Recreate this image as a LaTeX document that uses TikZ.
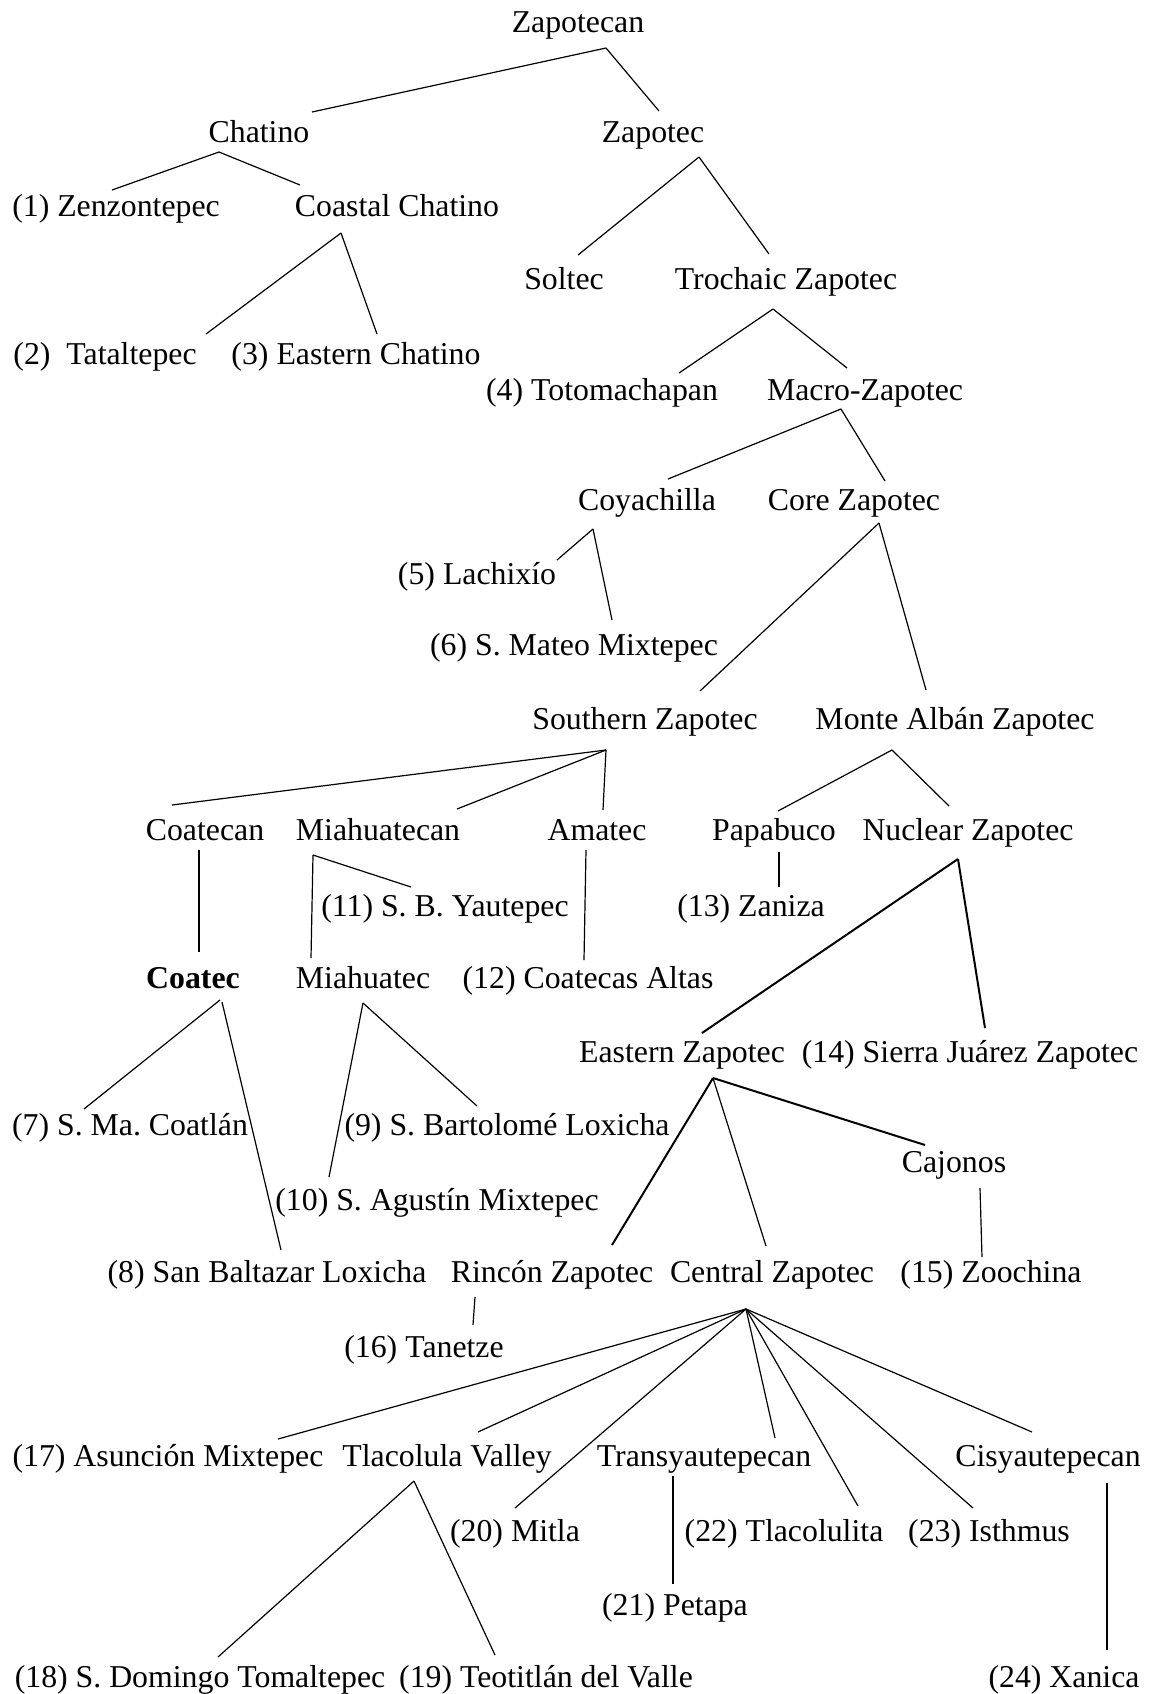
\documentclass[tikz,border=0pt]{standalone}
\usepackage{fontspec}
\setmainfont{Liberation Serif}
\frenchspacing
\begin{document}
\begin{tikzpicture}[x=0.5pt,y=-0.5pt,
  lbl/.style={anchor=base, inner sep=0pt, font=\fontsize{15.9pt}{19pt}\selectfont},
  branch/.style={line width=0.6pt},
  heavy/.style={line width=1pt}]
\useasboundingbox[fill=white] (0,0) rectangle (1149,1694);
\newcommand\conn[5][branch]{\draw[#1] ([shift={(#3)}]#2.base) -- ([shift={(#5)}]#4.base);}
% nodes
\node[lbl] (zapotecan) at (578,32) {Zapotecan};
\node[lbl] (chatino) at (259,142) {Chatino};
\node[lbl] (zapotec) at (653,142) {Zapotec};
\node[lbl] (zenz) at (116,216) {(1) Zenzontepec};
\node[lbl] (coastal) at (397,216) {Coastal Chatino};
\node[lbl] (soltec) at (564,289) {Soltec};
\node[lbl] (trochaic) at (786,289) {Trochaic Zapotec};
\node[lbl] (tatal) at (105,364) {(2)\ \ Tataltepec};
\node[lbl] (eastchat) at (356,364) {(3) Eastern Chatino};
\node[lbl] (toto) at (602,400) {(4) Totomachapan};
\node[lbl] (macro) at (865,400) {Macro-Zapotec};
\node[lbl] (coya) at (647,510) {Coyachilla};
\node[lbl] (core) at (854,510) {Core Zapotec};
\node[lbl] (lachi) at (477,584) {(5) Lachixío};
\node[lbl] (smateo) at (574,655) {(6) S. Mateo Mixtepec};
\node[lbl] (southern) at (645,729) {Southern Zapotec};
\node[lbl] (montealban) at (955,729) {Monte Albán Zapotec};
\node[lbl] (coatecan) at (205,840) {Coatecan};
\node[lbl] (miahuatecan) at (378,840) {Miahuatecan};
\node[lbl] (amatec) at (597,840) {Amatec};
\node[lbl] (papabuco) at (774,840) {Papabuco};
\node[lbl] (nuclear) at (968,840) {Nuclear Zapotec};
\node[lbl] (yaute) at (445,916) {(11) S. B. Yautepec};
\node[lbl] (zaniza) at (751,916) {(13) Zaniza};
\node[lbl] (coatec) at (193,988) {\textbf{Coatec}};
\node[lbl] (miahuatec) at (363,988) {Miahuatec};
\node[lbl] (coatecas) at (588,988) {(12) Coatecas Altas};
\node[lbl] (eastern) at (682,1062) {Eastern Zapotec};
\node[lbl] (sierra) at (970,1062) {(14) Sierra Juárez Zapotec};
\node[lbl] (smacoat) at (130,1135) {(7) S. Ma. Coatlán};
\node[lbl] (bartolome) at (507,1135) {(9) S. Bartolomé Loxicha};
\node[lbl] (cajonos) at (954,1172) {Cajonos};
\node[lbl] (agustin) at (437,1210) {(10) S. Agustín Mixtepec};
\node[lbl] (baltazar) at (267,1282) {(8) San Baltazar Loxicha};
\node[lbl] (rincon) at (552,1282) {Rincón Zapotec};
\node[lbl] (central) at (772,1282) {Central Zapotec};
\node[lbl] (zoochina) at (991,1282) {(15) Zoochina};
\node[lbl] (tanetze) at (424,1357) {(16) Tanetze};
\node[lbl] (asuncion) at (168,1466) {(17) Asunción Mixtepec};
\node[lbl] (tlacolula) at (447,1466) {Tlacolula Valley};
\node[lbl] (transy) at (704,1466) {Transyautepecan};
\node[lbl] (cisy) at (1048,1466) {Cisyautepecan};
\node[lbl] (mitla) at (515,1541) {(20) Mitla};
\node[lbl] (tlacolulita) at (784,1541) {(22) Tlacolulita};
\node[lbl] (isthmus) at (989,1541) {(23) Isthmus};
\node[lbl] (petapa) at (675,1615) {(21) Petapa};
\node[lbl] (domingo) at (200,1687) {(18) S. Domingo Tomaltepec};
\node[lbl] (teotitlan) at (546,1687) {(19) Teotitlán del Valle};
\node[lbl] (xanica) at (1064,1687) {(24) Xanica};
% connectors
\conn{zapotecan}{28,16}{chatino}{53,-30}
\conn{zapotecan}{28,16}{zapotec}{6,-31}
\conn{chatino}{-40,10}{zenz}{-4,-26}
\conn{chatino}{-40,10}{coastal}{-97,-31}
\conn{zapotec}{46,15}{soltec}{14,-34}
\conn{zapotec}{46,15}{trochaic}{-17,-35}
\conn{coastal}{-56,17}{tatal}{101,-30}
\conn{coastal}{-56,17}{eastchat}{21,-30}
\conn{trochaic}{-13,20}{toto}{77,-27}
\conn{trochaic}{-13,20}{macro}{-18,-32}
\conn{macro}{-24,9}{coya}{21,-31}
\conn{macro}{-24,9}{core}{31,-29}
\conn{coya}{-54,19}{lachi}{80,-24}
\conn{coya}{-54,19}{smateo}{38,-35}
\conn{core}{25,13}{southern}{55,-38}
\conn{core}{25,13}{montealban}{-29,-39}
\conn{southern}{-39,21}{coatecan}{-33,-35}
\conn{southern}{-39,21}{miahuatecan}{79,-31}
\conn{southern}{-39,21}{amatec}{6,-30}
\conn{montealban}{-63,21}{papabuco}{4,-29}
\conn{montealban}{-63,21}{nuclear}{-19,-34}
\conn{coatecan}{-6,10}{coatec}{6,-36}
\conn{miahuatecan}{-65,15}{yaute}{-34,-29}
\conn{miahuatecan}{-65,15}{miahuatec}{-52,-30}
\conn{amatec}{-11,10}{coatecas}{-4,-28}
\conn{papabuco}{5,12}{zaniza}{28,-29}
\conn[heavy]{nuclear}{-10,19}{eastern}{20,-29}
\conn[heavy]{nuclear}{-10,19}{sierra}{15,-34}
\conn{coatec}{27,12}{smacoat}{-46,-26}
\conn{coatec}{29,14}{baltazar}{14,-32}
\conn{miahuatec}{0,15}{agustin}{-108,-33}
\conn{miahuatec}{0,15}{bartolome}{-30,-29}
\conn[heavy]{eastern}{31,16}{rincon}{60,-37}
\conn{eastern}{31,16}{central}{-6,-36}
\conn[heavy]{eastern}{31,16}{cajonos}{-29,-27}
\conn{cajonos}{26,16}{zoochina}{-9,-25}
\conn{rincon}{-77,15}{tanetze}{49,-32}
\conn{central}{-26,27}{asuncion}{110,-27}
\conn{central}{-26,27}{tlacolula}{31,-34}
\conn{central}{-26,27}{mitla}{0,-33}
\conn{central}{-26,27}{transy}{71,-28}
\conn{central}{-26,27}{tlacolulita}{74,-35}
\conn{central}{-26,27}{isthmus}{-16,-33}
\conn{central}{-26,27}{cisy}{-16,-34}
\conn{tlacolula}{-33,15}{domingo}{18,-30}
\conn{tlacolula}{-33,15}{teotitlan}{-51,-32}
\conn{transy}{-31,10}{petapa}{-2,-31}
\conn{cisy}{59,17}{xanica}{43,-37}
\end{tikzpicture}
\end{document}
